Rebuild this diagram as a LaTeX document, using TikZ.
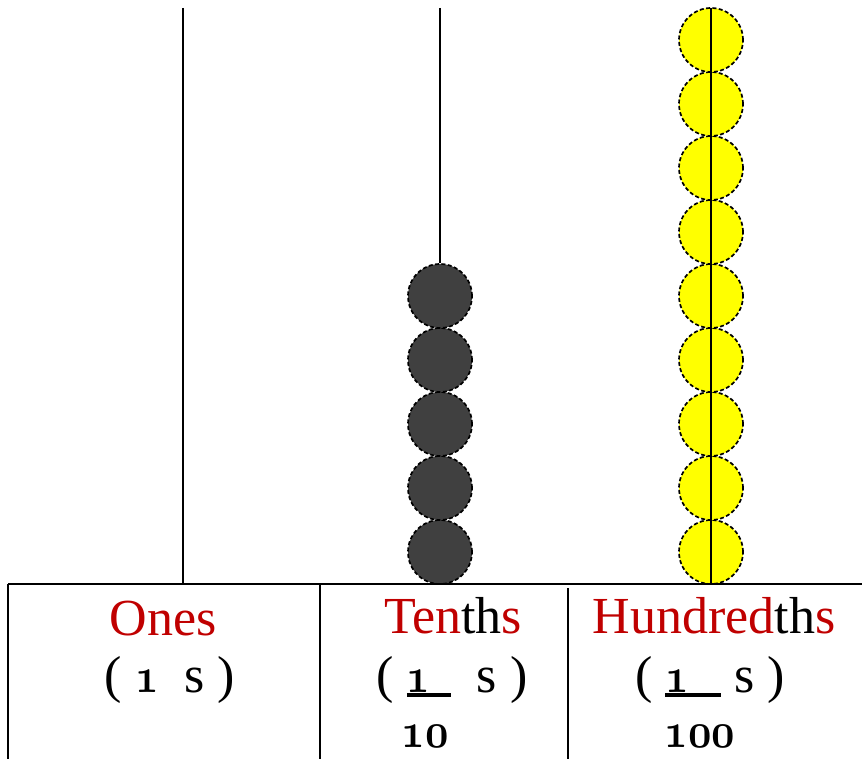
\documentclass[tikz,border=0pt]{standalone}
\usepackage{fontspec}
\setmainfont{Liberation Serif}
\usepackage{xcolor}
\usepackage{graphicx}
\usepackage{tikz}
\definecolor{ired}{HTML}{C00000}
\definecolor{beadgray}{HTML}{404040}
\definecolor{beadyellow}{HTML}{FFFF00}
\newcommand{\osn}[1]{\scalebox{0.82}[1]{\fontsize{31}{34}\usefont{OML}{cmm}{b}{it}#1}}
\newcommand{\ubar}[2]{\makebox[#2][l]{\rlap{\rule[-2.4pt]{#2}{1.7pt}}#1}}
\tikzset{
  frame/.style={draw=black, line width=1pt},
  rod/.style={draw=black, line width=0.75pt},
  bead/.style={circle, draw=black, line width=0.85pt, dash pattern=on 2pt off 1.2pt,
    minimum size=32pt, inner sep=0pt},
  tbead/.style={bead, fill=beadgray},
  hbead/.style={bead, fill=beadyellow},
  lbl/.style={anchor=base, font=\fontsize{26}{30}\selectfont, inner sep=0pt}
}

\begin{document}
\begin{tikzpicture}[x=0.5pt, y=-0.5pt]
  \useasboundingbox (0,0) rectangle (862,759);

  % rod tops and table corners
  \coordinate (otop) at (183,8);
  \coordinate (obot) at (183,584);
  \coordinate (ttop) at (440,8);
  \coordinate (htop) at (711,8);
  \coordinate (hbot) at (711,584);
  \coordinate (TL) at (8,584);
  \coordinate (TR) at (862,584);
  \coordinate (BL) at (8,759);
  \coordinate (D1) at (320,584);
  \coordinate (D1b) at (320,759);
  \coordinate (D2) at (568,588);
  \coordinate (D2b) at (568,759);

  % ones rod (empty)
  \draw[rod] (otop)--(obot);

  % tenths: 5 beads
  \foreach \i in {1,...,5}
    \node[tbead] (t\i) at (440,{616-64*\i}) {};
  \draw[rod] (ttop)--(t5.north);

  % hundredths: 9 beads
  \foreach \i in {1,...,9}
    \node[hbead] (h\i) at (711,{616-64*\i}) {};
  \draw[rod] (htop)--(hbot);

  % table
  \draw[frame] (TL)--(TR);
  \draw[frame] (TL)--(BL);
  \draw[frame] (D1)--(D1b);
  \draw[frame] (D2)--(D2b);

  % labels
  \node[lbl, text=ired] (ones) at (163,635) {Ones};
  \node[lbl] (onesval) at (170,692) {(\ \osn{1}\ \ s\ )};

  \node[lbl] (tenths) at (453,633) {\textcolor{ired}{Ten}th\textcolor{ired}{s}};
  \node[lbl] (tenthsval) at (452,692) {(\ \ubar{\osn{1}}{22pt}\ \ s\ )};
  \node[lbl] (tenthsden) at (425,747) {\osn{10}};

  \node[lbl] (hund) at (714,633) {\textcolor{ired}{Hundred}th\textcolor{ired}{s}};
  \node[lbl] (hundval) at (710,692) {(\ \ubar{\osn{1}}{28pt}\ s\ )};
  \node[lbl] (hundden) at (700,747) {\osn{100}};
\end{tikzpicture}
\end{document}
